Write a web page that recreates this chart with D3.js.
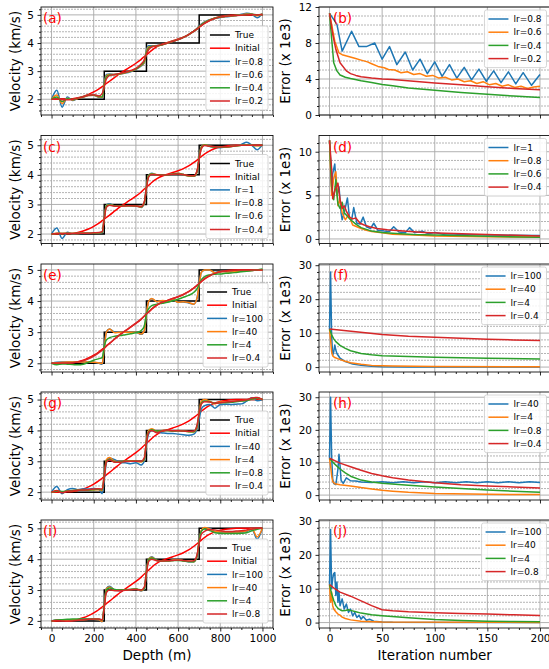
<!DOCTYPE html>
<html>
<head>
<meta charset="utf-8">
<script src="https://cdn.jsdelivr.net/npm/d3@7"></script>
<style>
  body { margin: 0; background: #fff; }
  svg text { font-family: "DejaVu Sans", sans-serif; }
</style>
</head>
<body>
<div id="chart"></div>
<script>
// ---------- data ----------
// depth samples (m), shared by every velocity series
const depth = [0,25,50,75,100,125,150,175,200,225, 240,250,260, 275,300,325,350,375,400,425, 440,450,460, 475,500,525,550,575,600,625,650,675, 690,700,710, 725,750,775,800,825,850,875,900,925,950,975,1000];

const trueDepth = [0, 250, 250, 450, 450, 700, 700, 1000];
const trueVel = [2, 2, 3, 3, 4, 4, 5, 5];

const initialVel = [2.00,2.00,2.01,2.01,2.02,2.05,2.10,2.17,2.26,2.37, 2.45,2.50,2.56, 2.64,2.78,2.92,3.04,3.16,3.28,3.42, 3.52,3.58,3.64, 3.74,3.87,3.96,4.02,4.08,4.14,4.21,4.30,4.42, 4.50,4.56,4.62, 4.70,4.81,4.89,4.94,4.97,4.99,5.00,5.00,5.00,5.00,5.00,5.00];

// learning-rate labels, one list per row
const lrRow1 = ["lr=0.8", "lr=0.6", "lr=0.4", "lr=0.2"];
const lrRow2 = ["lr=1", "lr=0.8", "lr=0.6", "lr=0.4"];
const lrRow3 = ["lr=100", "lr=40", "lr=4", "lr=0.4"];
const lrRow4 = ["lr=40", "lr=4", "lr=0.8", "lr=0.4"];
const lrRow5 = ["lr=100", "lr=40", "lr=4", "lr=0.8"];

// (a)
const velA1 = [2.00,2.32,1.72,2.08,1.96,2.03,2.08,2.13,2.14,2.06, 2.05,2.60,2.88, 2.90,2.88,2.90,2.93,2.98,3.06,3.18, 3.30,3.75,3.90, 3.90,3.91,3.94,4.00,4.06,4.12,4.20,4.30,4.42, 4.52,4.60,4.67, 4.75,4.83,4.88,4.91,4.93,4.95,4.98,5.02,5.06,5.02,4.90,5.04];
const velA2 = [2.00,2.15,1.85,2.04,1.97,2.03,2.08,2.13,2.14,2.08, 2.06,2.55,2.84, 2.88,2.88,2.90,2.94,2.99,3.07,3.20, 3.32,3.70,3.86, 3.88,3.90,3.94,4.00,4.06,4.12,4.20,4.30,4.42, 4.51,4.58,4.65, 4.73,4.82,4.88,4.92,4.94,4.96,4.98,5.00,5.03,5.02,4.97,5.02];
const velA3 = [2.00,2.08,1.92,2.02,1.99,2.04,2.09,2.14,2.15,2.10, 2.08,2.50,2.80, 2.86,2.88,2.91,2.95,3.00,3.08,3.22, 3.35,3.65,3.82, 3.87,3.90,3.94,4.00,4.06,4.12,4.20,4.30,4.42, 4.50,4.57,4.64, 4.72,4.81,4.88,4.92,4.95,4.97,4.98,4.99,5.01,5.02,5.00,5.02];
const velA4 = [2.00,2.01,1.98,1.98,2.00,2.04,2.09,2.14,2.16,2.12, 2.20,2.45,2.72, 2.84,2.88,2.92,2.96,3.02,3.10,3.25, 3.40,3.60,3.76, 3.86,3.90,3.95,4.00,4.06,4.12,4.20,4.30,4.42, 4.50,4.56,4.62, 4.70,4.80,4.87,4.92,4.95,4.97,4.98,4.99,5.00,5.01,5.00,5.02];

// (c)
const velC1 = [2.00,2.20,1.85,2.06,2.00,2.02,2.03,2.03,2.03,2.04, 2.05,2.55,2.98, 3.02,2.95,2.95,2.96,2.96,2.95,2.90, 3.05,3.60,3.98, 4.05,4.00,3.99,4.00,4.03,4.05,4.01,3.96,3.95, 4.10,4.60,4.95, 5.02,4.96,4.93,4.92,4.94,4.96,4.98,5.03,5.10,5.00,4.85,5.02];
const velC2 = [2.00,2.03,2.02,2.03,2.02,2.02,2.03,2.03,2.03,2.04, 2.06,2.55,2.97, 3.00,2.95,2.95,2.96,2.96,2.95,2.91, 3.05,3.60,3.98, 4.04,4.00,3.99,4.00,4.03,4.05,4.01,3.96,3.95, 4.10,4.60,4.95, 5.02,4.97,4.94,4.93,4.94,4.96,4.98,5.00,5.02,5.00,4.98,5.00];
const velC3 = [2.00,2.02,2.02,2.02,2.02,2.02,2.03,2.03,2.03,2.04, 2.06,2.52,2.95, 2.99,2.95,2.95,2.96,2.96,2.95,2.92, 3.07,3.58,3.96, 4.03,4.00,3.99,4.00,4.03,4.04,4.01,3.97,3.96, 4.12,4.58,4.92, 5.01,4.97,4.94,4.93,4.94,4.96,4.98,5.00,5.01,5.00,4.99,5.00];
const velC4 = [2.00,2.02,2.02,2.02,2.02,2.02,2.03,2.03,2.04,2.05, 2.08,2.50,2.90, 2.97,2.94,2.94,2.95,2.96,2.95,2.93, 3.10,3.55,3.92, 4.01,4.00,3.99,4.00,4.02,4.03,4.01,3.98,3.97, 4.15,4.55,4.88, 4.99,4.97,4.95,4.94,4.95,4.96,4.98,5.00,5.00,5.00,5.00,5.00];

// (e)
const velE1 = [2.00,2.03,2.04,2.04,2.04,2.04,2.04,2.04,2.03,2.00, 1.97,2.50,3.02, 3.10,3.00,3.00,3.00,3.00,3.00,2.93, 3.05,3.60,3.98, 4.07,3.98,4.01,4.00,4.04,3.96,3.97,3.94,3.90, 4.10,4.55,4.92, 4.99,4.99,4.92,4.95,4.95,4.94,4.95,4.96,4.97,4.98,5.00,5.00];
const velE2 = [2.00,2.02,2.03,2.04,2.04,2.04,2.04,2.04,2.03,2.01, 1.99,2.50,3.00, 3.10,2.98,3.00,3.00,3.00,3.00,2.94, 3.05,3.60,3.98, 4.08,3.98,4.02,4.00,4.05,3.96,3.98,3.95,3.90, 4.10,4.55,4.92, 5.00,5.00,4.91,4.95,4.94,4.93,4.95,4.96,4.97,4.98,5.00,5.00];
const velE3 = [2.00,1.95,1.98,1.97,1.96,1.95,1.97,2.03,2.10,2.15, 2.18,2.55,2.75, 2.82,2.87,2.89,2.92,2.95,2.98,3.05, 3.20,3.60,3.75, 3.85,3.90,3.93,3.96,4.01,4.06,4.12,4.18,4.28, 4.40,4.55,4.68, 4.78,4.84,4.86,4.87,4.89,4.90,4.92,4.94,4.96,4.98,5.00,5.03];
const velE4 = [2.00,2.01,2.01,2.01,2.02,2.04,2.08,2.14,2.23,2.34, 2.42,2.48,2.55, 2.64,2.79,2.93,3.05,3.17,3.29,3.42, 3.52,3.59,3.65, 3.75,3.88,3.96,4.02,4.08,4.14,4.21,4.30,4.42, 4.51,4.57,4.63, 4.72,4.82,4.89,4.94,4.96,4.98,4.99,5.00,5.00,5.00,5.00,5.00];

// (g)
const velG1 = [2.00,2.18,1.95,2.08,2.12,2.08,2.10,2.10,2.12,2.08, 1.95,2.40,2.95, 3.10,3.05,2.96,2.95,2.92,2.95,2.88, 3.00,3.55,3.88, 4.00,3.95,3.92,3.90,3.90,3.88,3.86,3.84,3.88, 4.05,4.35,4.70, 4.80,4.84,4.72,4.84,4.85,4.84,4.85,4.86,4.95,5.06,4.96,5.00];
const velG2 = [2.00,2.04,2.00,2.04,2.05,2.06,2.06,2.06,2.07,2.08, 2.05,2.55,3.05, 3.12,3.00,2.98,3.00,3.02,3.00,2.98, 3.05,3.70,4.00, 4.05,3.97,4.00,4.00,3.98,4.00,3.98,3.96,3.95, 4.10,4.60,4.95, 5.00,4.95,4.86,4.92,4.92,4.93,4.95,4.96,4.98,5.02,5.04,5.00];
const velG3 = [2.00,2.03,2.02,2.04,2.05,2.06,2.07,2.07,2.08,2.09, 2.08,2.55,3.00, 3.06,2.98,2.98,3.00,3.00,3.00,2.99, 3.08,3.65,3.95, 4.02,3.98,3.99,4.00,3.98,3.99,3.98,3.96,3.96, 4.15,4.55,4.88, 4.95,4.93,4.88,4.90,4.90,4.91,4.93,4.95,4.97,5.02,5.05,5.00];
const velG4 = [2.00,2.05,1.98,2.03,2.04,2.06,2.07,2.08,2.10,2.11, 2.10,2.52,2.98, 3.04,2.97,2.97,2.99,3.00,3.00,3.00, 3.12,3.62,3.93, 4.00,3.92,3.99,4.01,3.99,3.99,3.98,3.97,3.98, 4.18,4.55,4.85, 4.93,4.92,4.88,4.90,4.92,4.93,4.95,4.97,4.99,5.05,5.07,5.00];

// (i)
const velI1 = [2.00,2.03,2.02,2.04,2.04,2.04,2.05,2.05,2.05,2.04, 1.97,2.50,3.05, 3.12,3.00,2.98,3.00,3.02,3.03,2.97, 3.05,3.60,4.00, 4.08,3.96,3.95,3.95,3.97,3.98,3.95,3.92,3.92, 4.10,4.60,4.92, 5.02,5.00,4.90,4.88,4.87,4.87,4.87,4.88,4.90,4.97,4.65,5.00];
const velI2 = [2.00,2.02,2.02,2.03,2.04,2.04,2.04,2.05,2.05,2.04, 1.98,2.50,3.05, 3.10,3.00,2.99,3.00,3.02,3.03,2.98, 3.05,3.60,4.00, 4.06,3.96,3.95,3.95,3.97,3.98,3.95,3.93,3.92, 4.10,4.60,4.93, 5.03,4.98,4.90,4.89,4.88,4.88,4.88,4.89,4.92,4.99,4.72,5.00];
const velI3 = [2.00,2.03,2.04,2.05,2.06,2.06,2.06,2.06,2.06,2.06, 2.02,2.50,3.00, 3.07,3.02,3.00,3.01,3.02,3.03,3.00, 3.05,3.60,3.98, 4.04,3.96,3.94,3.94,3.95,3.96,3.94,3.92,3.92, 4.10,4.60,4.90, 4.98,4.93,4.86,4.84,4.83,4.83,4.83,4.84,4.86,4.92,4.97,5.00];
const velI4 = [2.00,2.01,2.00,1.99,2.00,2.02,2.04,2.05,2.06,2.06, 2.03,2.45,2.92, 3.00,2.98,2.98,2.99,3.01,3.02,3.00, 3.10,3.55,3.92, 4.00,3.95,3.94,3.95,3.96,3.97,3.96,3.94,3.95, 4.15,4.52,4.80, 4.90,4.96,4.95,4.92,4.90,4.90,4.91,4.92,4.95,4.98,5.00,5.00];

// error curves: [iteration, error x 1e3]
const errB1 = [[0,11.3],[7,10.1],[12,7.1],[21,9.3],[28,7.6],[35,7.6],[43,8.0],[50,6.2],[57,7.6],[64,5.6],[72,7.0],[79,5.0],[86,6.2],[93,4.6],[100,5.9],[107,4.3],[114,5.6],[121,4.1],[128,5.3],[135,3.9],[142,5.1],[149,3.75],[156,4.9],[163,3.6],[170,4.8],[177,3.45],[184,4.7],[192,3.3],[200,4.5]];
const errB2 = [[0,11.3],[5,8.2],[9,6.9],[12,6.7],[18,6.5],[24,6.3],[30,6.1],[36,5.9],[40,5.7],[46,5.4],[52,5.25],[56,5.05],[62,5.0],[68,4.7],[74,4.8],[80,4.5],[86,4.6],[92,4.3],[98,4.4],[104,4.1],[110,4.2],[116,3.9],[122,4.0],[128,3.7],[134,3.8],[140,3.5],[146,3.7],[152,3.35],[158,3.5],[164,3.2],[170,3.35],[176,3.05],[182,3.2],[188,2.95],[194,3.1],[200,3.2]];
const errB3 = [[0,11.3],[2,8.5],[4,5.8],[7,4.9],[10,4.45],[15,4.2],[20,4.05],[30,3.8],[40,3.6],[50,3.4],[60,3.25],[75,3.0],[100,2.75],[125,2.5],[150,2.3],[175,2.1],[200,1.95]];
const errB4 = [[0,11.3],[3,9.0],[6,7.3],[10,5.8],[16,4.9],[20,4.6],[25,4.4],[30,4.25],[40,4.1],[50,4.0],[60,3.95],[80,3.75],[100,3.55],[125,3.35],[150,3.15],[175,2.95],[200,2.8]];

const errD1 = [[0,11.3],[1,9],[2,6.0],[3,7.5],[5,8.6],[7,5.0],[9,6.0],[11,3.0],[12,2.2],[14,3.0],[17,4.7],[19,2.4],[21,2.2],[23,3.6],[26,1.8],[29,1.7],[32,2.5],[35,1.4],[39,1.2],[42,1.8],[46,1.0],[52,0.9],[57,0.85],[61,1.4],[66,0.8],[72,0.7],[76,1.3],[81,0.7],[88,0.9],[94,0.6],[100,0.75],[108,0.55],[115,0.6],[125,0.5],[150,0.45],[200,0.4]];
const errD2 = [[0,11.3],[1,8],[2,5.0],[4,7.0],[6,7.7],[8,3.8],[10,4.5],[12,3.0],[15,2.2],[18,2.8],[22,1.6],[26,1.4],[30,1.2],[35,1.0],[40,0.85],[50,0.7],[60,0.55],[80,0.45],[100,0.35],[150,0.25],[200,0.2]];
const errD3 = [[0,11.3],[2,6.0],[4,4.5],[6,6.8],[8,4.0],[10,3.5],[12,4.2],[14,3.0],[17,2.6],[20,2.2],[25,1.7],[30,1.3],[35,1.1],[40,0.9],[50,0.75],[60,0.65],[80,0.5],[100,0.45],[150,0.3],[200,0.2]];
const errD4 = [[0,11.3],[2,8.0],[3,4.6],[5,5.5],[8,6.4],[10,4.5],[12,3.5],[14,3.8],[16,3.2],[19,2.5],[22,2.3],[25,2.4],[29,1.8],[33,1.6],[38,1.4],[45,1.2],[55,1.05],[70,0.9],[90,0.75],[110,0.65],[150,0.5],[200,0.35]];

const errF1 = [[0,11.2],[1,28.0],[2,9],[3,3.5],[4,4.5],[5,6.5],[6,5.0],[7,4.0],[10,2.6],[15,1.6],[22,0.9],[30,0.5],[40,0.25],[50,0.12],[75,0.05],[200,0.02]];
const errF2 = [[0,11.2],[1,8.0],[2,4.5],[3,3.3],[5,2.8],[10,2.2],[15,1.7],[20,1.3],[30,0.8],[40,0.5],[60,0.3],[100,0.15],[200,0.1]];
const errF3 = [[0,11.2],[2,9.5],[4,8.3],[6,7.5],[10,6.4],[15,5.5],[20,4.8],[30,4.0],[40,3.6],[50,3.3],[75,3.1],[100,2.9],[150,2.6],[200,2.4]];
const errF4 = [[0,11.2],[25,10.4],[50,9.6],[75,9.1],[100,8.8],[125,8.5],[150,8.2],[175,8.0],[200,7.8]];

const errH1 = [[0,11.2],[1,30],[2,12],[3,5],[4,3.5],[6,3.2],[8,8],[9,12.5],[10,9],[11,4.5],[13,3.6],[16,5.3],[20,4.4],[25,4.3],[30,4.0],[40,3.9],[50,4.1],[60,3.8],[70,4.1],[80,3.8],[90,4.1],[100,3.8],[110,4.1],[120,3.8],[130,4.1],[140,3.8],[150,4.1],[160,3.8],[170,4.1],[180,3.8],[190,4.1],[200,3.9]];
const errH2 = [[0,11.2],[1,9],[2,6],[3,4.2],[5,3.5],[10,3.2],[20,2.8],[30,2.3],[40,1.9],[50,1.5],[60,1.2],[75,0.85],[100,0.5],[150,0.25],[200,0.15]];
const errH3 = [[0,11.2],[5,9.5],[10,8.0],[15,6.8],[20,5.8],[30,4.6],[40,4.0],[50,3.6],[75,3.0],[100,2.5],[125,2.0],[150,1.6],[175,1.2],[200,0.9]];
const errH4 = [[0,11.3],[10,9.8],[20,8.7],[30,7.6],[40,6.6],[50,5.9],[60,5.3],[75,4.6],[100,3.8],[125,3.2],[150,2.8],[175,2.5],[200,2.2]];

const errJ1 = [[0,11.2],[1,27.5],[2,10],[3,13],[4,14.5],[5,14.8],[6,8],[7,12],[8,6],[9,9],[10,5],[12,7],[14,4],[16,5.5],[18,3],[20,4],[22,2],[24,3],[26,1.5],[28,2.2],[30,1],[32,1.8],[35,0.7],[38,1],[42,0.4],[50,0.2],[60,0.1],[200,0.05]];
const errJ2 = [[0,11.2],[1,6],[2,9],[3,5],[4,4],[6,3.2],[8,2.5],[10,2.2],[12,1.6],[15,1.2],[20,0.8],[30,0.4],[50,0.2],[200,0.05]];
const errJ3 = [[0,11.2],[2,8.5],[4,6.5],[6,5],[8,4.2],[10,3.8],[12,3.5],[15,3.6],[18,3.8],[20,3.6],[25,3.2],[30,2.8],[40,2.3],[50,2.0],[75,1.4],[100,0.9],[125,0.6],[150,0.4],[175,0.3],[200,0.25]];
const errJ4 = [[0,11.2],[5,10],[10,9],[20,7.8],[30,6.4],[40,5.0],[50,3.8],[60,3.5],[75,3.2],[100,2.9],[125,2.7],[150,2.5],[175,2.3],[200,2.1]];

// tick labels
const depthTicks = [0, 200, 400, 600, 800, 1000];
const iterTicks = [0, 50, 100, 150, 200];
const velTicks = [2, 3, 4, 5];
const errTicksB = [0, 4, 8, 12];
const errTicksD = [0, 5, 10];
const errTicks30 = [0, 10, 20, 30];

// ---------- layout ----------
const W = 549, H = 669;
const rowTops = [7, 135.5, 264, 392, 520];
const rowH = 108;
const lrColors = ["#1f77b4", "#ff7f0e", "#2ca02c", "#d62728"];

const svg = d3.select("#chart").append("svg").attr("width", W).attr("height", H);

const xDepth = d3.scaleLinear().domain([-50, 1050]).range([41, 273]);
const xIter = d3.scaleLinear().domain([-10, 210]).range([319, 550.5]);

function minorTicks(domain, step) {
  const out = [];
  for (let k = Math.ceil(domain[0] / step - 1e-9); k * step <= domain[1] + 1e-9; k++) {
    out.push(+(k * step).toFixed(6));
  }
  return out;
}

function makeAxes(p) {
  const [x0, x1] = p.x.range();
  const top = p.top, bottom = p.top + rowH;
  const y = d3.scaleLinear().domain(p.yDomain).range([bottom, top]);
  const g = svg.append("g");

  g.append("clipPath").attr("id", p.id)
    .append("rect").attr("x", x0).attr("y", top).attr("width", x1 - x0).attr("height", rowH);

  // minor horizontal grid (dotted)
  const yMin = minorTicks(p.yDomain, p.yMinor).filter(v => !p.yTicks.includes(v));
  g.append("g").selectAll("line").data(yMin).join("line")
    .attr("x1", x0).attr("x2", x1)
    .attr("y1", d => y(d)).attr("y2", d => y(d))
    .attr("stroke", "#ababab").attr("stroke-width", 0.9)
    .attr("stroke-dasharray", "2,1");

  // major grid
  g.append("g").selectAll("line").data(p.yTicks).join("line")
    .attr("x1", x0).attr("x2", x1)
    .attr("y1", d => y(d)).attr("y2", d => y(d))
    .attr("stroke", "#a8a8a8").attr("stroke-width", 0.9);
  g.append("g").selectAll("line").data(p.xTicks).join("line")
    .attr("x1", d => p.x(d)).attr("x2", d => p.x(d))
    .attr("y1", top).attr("y2", bottom)
    .attr("stroke", "#a8a8a8").attr("stroke-width", 0.9);

  const plot = g.append("g").attr("clip-path", `url(#${p.id})`);
  return { g, plot, y, x0, x1, top, bottom };
}

function styleAxis(sel) {
  sel.select(".domain").remove();
  sel.attr("font-family", "DejaVu Sans").attr("font-size", 10.5).attr("color", "#000");
  sel.selectAll(".tick line").attr("stroke-width", 0.85);
}

function finishAxes(ax, p) {
  const { g, y, x0, x1, top, bottom } = ax;
  g.append("rect").attr("x", x0).attr("y", top).attr("width", x1 - x0).attr("height", rowH)
    .attr("fill", "none").attr("stroke", "#000").attr("stroke-width", 0.85);

  const xMinorVals = minorTicks(p.x.domain(), p.xMinor).filter(v => !p.xTicks.includes(v));
  g.append("g").attr("transform", `translate(0,${bottom})`)
    .call(d3.axisBottom(p.x).tickValues(xMinorVals).tickSize(2).tickFormat(""))
    .call(styleAxis);
  g.append("g").attr("transform", `translate(0,${bottom})`)
    .call(d3.axisBottom(p.x).tickValues(p.xTicks).tickSize(3.5).tickPadding(3)
      .tickFormat(p.showX ? d3.format("d") : ""))
    .call(styleAxis);

  const yMinorVals = minorTicks(p.yDomain, p.yMinor).filter(v => !p.yTicks.includes(v));
  g.append("g").attr("transform", `translate(${x0},0)`)
    .call(d3.axisLeft(y).tickValues(yMinorVals).tickSize(2).tickFormat(""))
    .call(styleAxis);
  g.append("g").attr("transform", `translate(${x0},0)`)
    .call(d3.axisLeft(y).tickValues(p.yTicks).tickSize(3.5).tickPadding(3.5).tickFormat(d3.format("d")))
    .call(styleAxis);

  // panel letter
  g.append("text").attr("x", p.tagX).attr("y", top + 16)
    .attr("fill", "#ff0000").attr("font-size", 13.5).text(p.tag);
}

function drawLegend(g, entries, box) {
  const rowStep = 13.2, pad = 9;
  const h = pad * 2 + rowStep * (entries.length - 1);
  const top = box.bottom != null ? box.bottom - h : box.top;
  const lg = g.append("g");
  const rect = lg.append("rect");
  const texts = entries.map((e, i) => lg.append("text")
    .attr("y", top + pad + i * rowStep).attr("dy", "0.35em")
    .attr("font-size", 9).attr("fill", "#000").text(e.label));
  const tw = d3.max(texts, t => t.node().getComputedTextLength());
  const w = 29 + tw + 5;
  const left = box.right - w;
  rect.attr("x", left).attr("y", top).attr("width", w).attr("height", h)
    .attr("rx", 2).attr("fill", "#fff").attr("fill-opacity", 0.85)
    .attr("stroke", "#cccccc").attr("stroke-width", 0.8);
  texts.forEach(t => t.attr("x", left + 29));
  entries.forEach((e, i) => {
    const yy = top + pad + i * rowStep;
    lg.append("line").attr("x1", left + 4).attr("x2", left + 24)
      .attr("y1", yy).attr("y2", yy)
      .attr("stroke", e.color).attr("stroke-width", 1.5);
  });
}

// ---------- velocity panels (left column) ----------
const velPanels = [
  { tag: "(a)", yDomain: [1.44, 5.28], labels: lrRow1, runs: [velA1, velA2, velA3, velA4] },
  { tag: "(c)", yDomain: [1.68, 5.33], labels: lrRow2, runs: [velC1, velC2, velC3, velC4] },
  { tag: "(e)", yDomain: [1.72, 5.19], labels: lrRow3, runs: [velE1, velE2, velE3, velE4] },
  { tag: "(g)", yDomain: [1.745, 5.245], labels: lrRow4, runs: [velG1, velG2, velG3, velG4] },
  { tag: "(i)", yDomain: [1.77, 5.27], labels: lrRow5, runs: [velI1, velI2, velI3, velI4] }
];

velPanels.forEach((vp, r) => {
  const p = {
    id: "clipv" + r, x: xDepth, top: rowTops[r], yDomain: vp.yDomain,
    yTicks: velTicks, yMinor: 0.2, xTicks: depthTicks, xMinor: 50,
    showX: r === 4, tag: vp.tag, tagX: 43
  };
  const ax = makeAxes(p);
  const line = d3.line().x((d, i) => xDepth(depth[i])).y(d => ax.y(d)).curve(d3.curveMonotoneX);

  ax.plot.append("path").datum(trueVel)
    .attr("d", d3.line().x((d, i) => xDepth(trueDepth[i])).y(d => ax.y(d)))
    .attr("fill", "none").attr("stroke", "#000").attr("stroke-width", 1.5);
  ax.plot.append("path").datum(initialVel).attr("d", line)
    .attr("fill", "none").attr("stroke", "#ff0000").attr("stroke-width", 1.5);
  vp.runs.forEach((run, k) => {
    ax.plot.append("path").datum(run).attr("d", line)
      .attr("fill", "none").attr("stroke", lrColors[k]).attr("stroke-width", 1.5)
      .attr("stroke-linejoin", "round");
  });

  finishAxes(ax, p);
  const entries = [{ label: "True", color: "#000" }, { label: "Initial", color: "#ff0000" }]
    .concat(vp.labels.map((l, k) => ({ label: l, color: lrColors[k] })));
  drawLegend(ax.g, entries, { right: ax.x1 - 5, bottom: ax.bottom - 5 });
});

// ---------- error panels (right column) ----------
const errPanels = [
  { tag: "(b)", yDomain: [0, 12], yTicks: errTicksB, yMinor: 1, labels: lrRow1, runs: [errB1, errB2, errB3, errB4] },
  { tag: "(d)", yDomain: [-0.52, 11.86], yTicks: errTicksD, yMinor: 1, labels: lrRow2, runs: [errD1, errD2, errD3, errD4] },
  { tag: "(f)", yDomain: [-1.45, 30.35], yTicks: errTicks30, yMinor: 2, labels: lrRow3, runs: [errF1, errF2, errF3, errF4] },
  { tag: "(h)", yDomain: [-1.5, 31.6], yTicks: errTicks30, yMinor: 2, labels: lrRow4, runs: [errH1, errH2, errH3, errH4] },
  { tag: "(j)", yDomain: [-1.6, 30.3], yTicks: errTicks30, yMinor: 2, labels: lrRow5, runs: [errJ1, errJ2, errJ3, errJ4] }
];

errPanels.forEach((ep, r) => {
  const p = {
    id: "clipe" + r, x: xIter, top: rowTops[r], yDomain: ep.yDomain,
    yTicks: ep.yTicks, yMinor: ep.yMinor, xTicks: iterTicks, xMinor: 10,
    showX: r === 4, tag: ep.tag, tagX: 333
  };
  const ax = makeAxes(p);
  const line = d3.line().x(d => xIter(d[0])).y(d => ax.y(d[1]));
  ep.runs.forEach((run, k) => {
    ax.plot.append("path").datum(run).attr("d", line)
      .attr("fill", "none").attr("stroke", lrColors[k]).attr("stroke-width", 1.5)
      .attr("stroke-linejoin", "round");
  });
  finishAxes(ax, p);
  const entries = ep.labels.map((l, k) => ({ label: l, color: lrColors[k] }));
  drawLegend(ax.g, entries, { right: ax.x1 - 4, top: ax.top + 3 });
});

// ---------- axis titles ----------
rowTops.forEach(t => {
  svg.append("text").attr("transform", `translate(15,${t + rowH / 2}) rotate(-90)`)
    .attr("text-anchor", "middle").attr("dy", "0.35em").attr("font-size", 13.5)
    .attr("fill", "#000").text("Velocity (km/s)");
  svg.append("text").attr("transform", `translate(285,${t + rowH / 2}) rotate(-90)`)
    .attr("text-anchor", "middle").attr("dy", "0.35em").attr("font-size", 13.5)
    .attr("fill", "#000").text("Error (x 1e3)");
});
svg.append("text").attr("x", 157).attr("y", 660).attr("text-anchor", "middle")
  .attr("font-size", 13.5).attr("fill", "#000").text("Depth (m)");
svg.append("text").attr("x", 434.7).attr("y", 660).attr("text-anchor", "middle")
  .attr("font-size", 13.5).attr("fill", "#000").text("Iteration number");
</script>
</body>
</html>
